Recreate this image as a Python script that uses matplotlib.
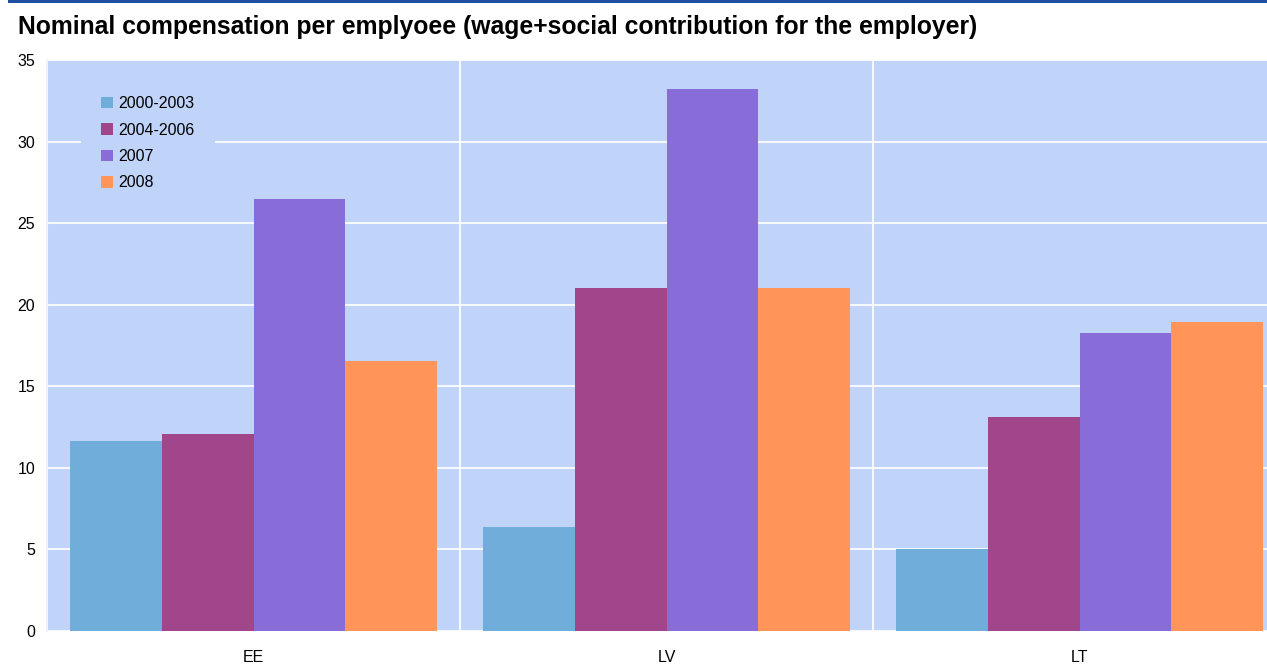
import matplotlib
matplotlib.use("Agg")
import matplotlib.pyplot as plt
from matplotlib.patches import Rectangle
import numpy as np

plt.rcParams['font.family'] = ['Liberation Sans', 'DejaVu Sans']

countries = ["EE", "LV", "LT"]
periods = ["2000-2003", "2004-2006", "2007", "2008"]
val_2000_2003 = [11.65, 6.38, 5.03]
val_2004_2006 = [12.08, 21.03, 13.12]
val_2007 = [26.49, 33.23, 18.27]
val_2008 = [16.55, 21.03, 18.95]
series = [val_2000_2003, val_2004_2006, val_2007, val_2008]
colors = ["#71ADDA", "#A2468C", "#886CD8", "#FF9559"]
y_ticks = [0, 5, 10, 15, 20, 25, 30, 35]

W, H = 1267, 667
fig = plt.figure(figsize=(W / 100, H / 100), dpi=100)
ax = fig.add_axes([47 / W, (H - 631) / H, (1286 - 47) / W, (631 - 60) / H])

bg = "#C0D3F9"
ax.set_facecolor(bg)

x = np.arange(len(countries))
bw = 0.2216
offsets = (np.arange(len(series)) - (len(series) - 1) / 2) * bw
for s, off, c, lab in zip(series, offsets, colors, periods):
    ax.bar(x + off, s, width=bw, color=c, label=lab, zorder=3, linewidth=0)

ax.set_xlim(-0.5, len(countries) - 0.5)
ax.set_ylim(0, 35)
ax.set_yticks(y_ticks)
ax.set_xticks(x)
ax.set_xticklabels(countries)
ax.set_xticks([0.5, 1.5], minor=True)

ax.set_axisbelow(True)
ax.grid(axis="y", which="major", color="white", linewidth=1.5, alpha=0.85)
ax.grid(axis="x", which="minor", color="white", linewidth=1.5, alpha=0.85)
ax.grid(axis="x", which="major", visible=False)

ax.tick_params(axis="y", length=0, pad=8.5, labelsize=11.5, colors="black")
ax.tick_params(axis="x", which="major", length=0, pad=14, labelsize=11.5)
ax.tick_params(axis="x", which="minor", length=0)

for side in ["top", "right", "bottom"]:
    ax.spines[side].set_visible(False)
ax.spines["left"].set_color("#EEF3FD")
ax.spines["left"].set_linewidth(1.5)

leg = ax.legend(loc="upper left", bbox_to_anchor=((87 - 47) / (1286 - 47), 1 - (82 - 60) / (631 - 60)),
                frameon=True, facecolor=bg, edgecolor="none", framealpha=1, fancybox=False,
                fontsize=11.5, handlelength=0.72, handleheight=0.72, handletextpad=0.35,
                labelspacing=0.71, borderaxespad=0, borderpad=0.9)
leg.get_frame().set_boxstyle("square", pad=0.4)
leg.set_zorder(5)

fig.text(18 / W, 1 - 27 / H, "Nominal compensation per emplyoee (wage+social contribution for the employer)",
         fontsize=17.8, fontweight="bold", ha="left", va="center")

fig.add_artist(Rectangle((8 / W, 1 - 2.5 / H), 1, 2.5 / H, transform=fig.transFigure,
                         facecolor="#1F4FA0", edgecolor="none"))

fig.savefig("out.png", dpi=100)
